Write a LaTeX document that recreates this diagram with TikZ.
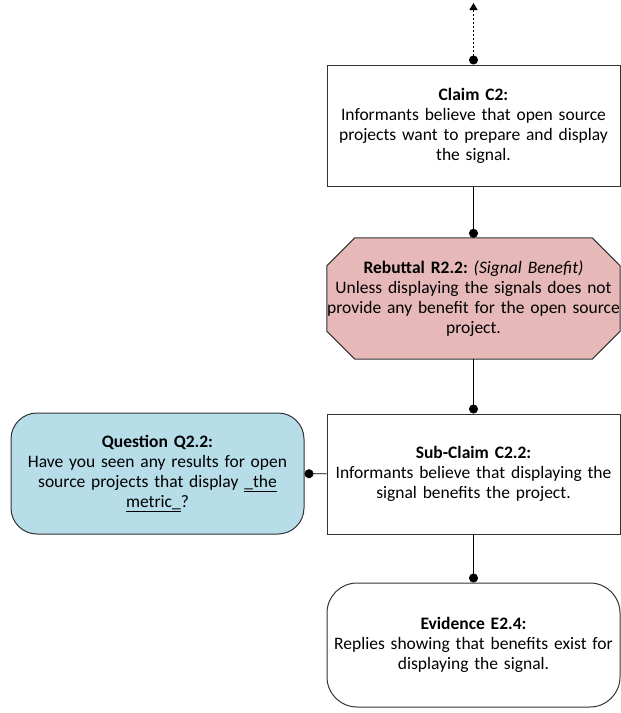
\documentclass[tikz,border=0pt]{standalone}
\usepackage{fontspec}
\setmainfont{Carlito}
\usepackage{tikz}
\usetikzlibrary{arrows.meta, backgrounds}
\definecolor{rebfill}{RGB}{230, 185, 184}
\definecolor{quefill}{RGB}{183, 221, 232}
\definecolor{boxline}{gray}{0.2}
\hyphenpenalty=10000
\frenchspacing

\begin{document}
\begin{tikzpicture}[x=1pt, y=1pt,
		argtext/.style={minimum width=293pt, text width=293pt, inner sep=0pt, align=center, font=\fontsize{17.5}{20}\selectfont},
		argbox/.style={argtext, draw=boxline, line width=1pt},
		link/.style={line width=0.8pt, black}]
	\useasboundingbox (0,0) rectangle (621,-713);

	% boxes
	\node[argbox, minimum height=121pt] (claim) at (473.5,-125.5)
		{\textbf{Claim C2:}\\Informants believe that open source\\projects want to prepare and display\\the signal.};
	\node[argtext, minimum height=121pt] (reb) at (473.5,-298.5)
		{\textbf{Rebuttal R2.2:} \textit{(Signal Benefit)}\\Unless displaying the signals does not\\provide any benefit for the open source\\project.};
	\node[argbox, minimum height=120pt] (sub) at (473.5,-474)
		{\textbf{Sub-Claim C2.2:}\\Informants believe that displaying the\\signal benefits the project.};
	\node[argbox, fill=quefill, rounded corners=26pt, minimum height=121pt] (que) at (157.5,-473.5)
		{\textbf{Question Q2.2:}\\Have you seen any results for open\\source projects that display \underline{\_the}\\\underline{metric\_}?};
	\node[argbox, rounded corners=30pt, minimum height=124pt] (evi) at (473.5,-645)
		{\textbf{Evidence E2.4:}\\Replies showing that benefits exist for\\displaying the signal.};

	% octagon behind the rebuttal text
	\begin{scope}[on background layer]
		\draw[boxline, line width=1pt, fill=rebfill]
			([xshift=28pt]reb.north west) -- ([xshift=-28pt]reb.north east)
			-- ([yshift=-28pt]reb.north east) -- ([yshift=28pt]reb.south east)
			-- ([xshift=-28pt]reb.south east) -- ([xshift=28pt]reb.south west)
			-- ([yshift=28pt]reb.south west) -- ([yshift=-28pt]reb.north west) -- cycle;
	\end{scope}

	% links
	\coordinate (up) at (473.5,-3);
	\draw[link, line width=1.3pt, dash pattern=on 2pt off 2pt, {Circle[length=9pt]}-{Triangle[length=7pt, width=8pt]}] (claim.north) -- (up);
	\draw[link, -{Circle[length=9pt]}] (claim) -- (reb);
	\draw[link, -{Circle[length=9pt]}] (reb) -- (sub);
	\draw[link, -{Circle[length=9pt]}] (sub) -- (evi);
	\draw[link, {Circle[length=9pt]}-] (que) -- (sub);
\end{tikzpicture}
\end{document}
